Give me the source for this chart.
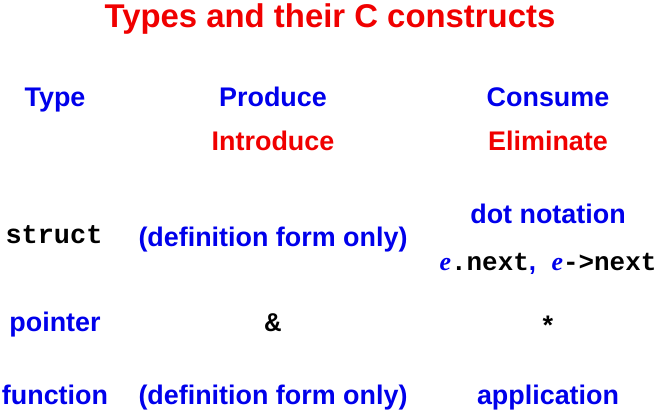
\documentclass[border=0pt]{standalone}
\usepackage{pgfplots}
\pgfplotsset{compat=1.18}
\usepackage{fontspec}
\setmainfont{Liberation Sans}
\newfontfamily\mono{Liberation Mono}
\newfontfamily\serif{Liberation Serif}
\definecolor{myblue}{RGB}{0,0,235}
\definecolor{myred}{RGB}{240,0,0}
\begin{document}
\begin{tikzpicture}[x=1bp,y=-1bp,every node/.style={anchor=base,font=\bfseries\fontsize{27}{30}\selectfont,inner sep=0pt}]
\path (0,0) rectangle (658,410);
\node[myred,font=\bfseries\fontsize{33}{36}\selectfont] at (330,27) {Types and their C constructs};
\node[myblue] at (55,106) {Type};
\node[myblue] at (273,106) {Produce};
\node[myblue] at (548,106) {Consume};
\node[myred] at (273,150) {Introduce};
\node[myred] at (548,150) {Eliminate};
\node[font=\mono\bfseries\fontsize{27}{30}\selectfont] at (54,243) {struct};
\node[myblue] at (273,246) {(definition form only)};
\node[myblue] at (548,223) {dot notation};
\node[font=\mono\bfseries\fontsize{26}{30}\selectfont] at (548,270) {{\color{myblue}\serif\bfseries\itshape e}.next{\color{myblue}\bfseries\fontspec{Liberation Sans},} {\color{myblue}\serif\bfseries\itshape e}->next};
\node[myblue] at (55,331) {pointer};
\node[font=\mono\bfseries\fontsize{27}{30}\selectfont] at (273,331) {\&};
\node[font=\mono\bfseries\fontsize{27}{30}\selectfont] at (548,335) {*};
\node[myblue] at (55,404) {function};
\node[myblue] at (273,404) {(definition form only)};
\node[myblue] at (548,404) {application};
\end{tikzpicture}
\end{document}
